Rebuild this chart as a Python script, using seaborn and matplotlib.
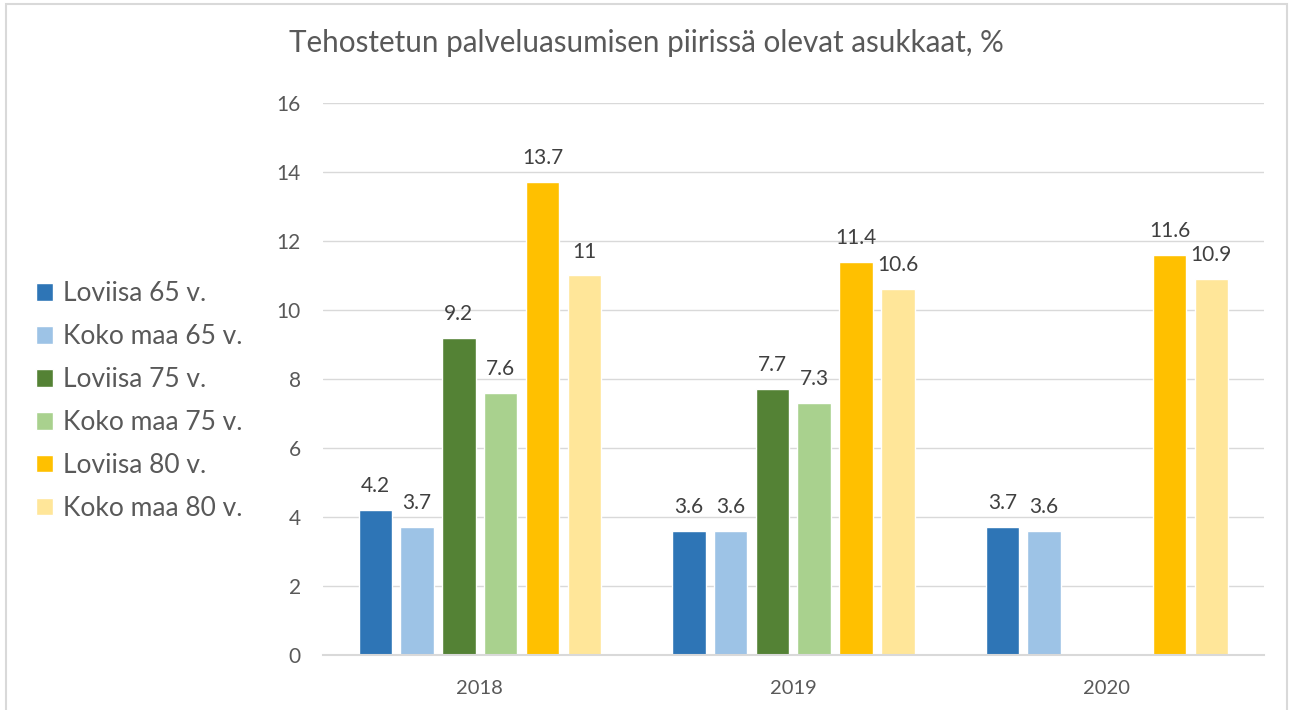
import numpy as np
import pandas as pd
import seaborn as sns
import matplotlib.pyplot as plt
from matplotlib.patches import Rectangle

years = ["2018", "2019", "2020"]
series = ["Loviisa 65 v.", "Koko maa 65 v.", "Loviisa 75 v.", "Koko maa 75 v.", "Loviisa 80 v.", "Koko maa 80 v."]
loviisa_65 = [4.2, 3.6, 3.7]
kokomaa_65 = [3.7, 3.6, 3.6]
loviisa_75 = [9.2, 7.7, np.nan]
kokomaa_75 = [7.6, 7.3, np.nan]
loviisa_80 = [13.7, 11.4, 11.6]
kokomaa_80 = [11.0, 10.6, 10.9]
colors = ["#2E75B6", "#9DC3E6", "#548235", "#A9D18E", "#FFC000", "#FFE699"]

values = [loviisa_65, kokomaa_65, loviisa_75, kokomaa_75, loviisa_80, kokomaa_80]
rows = []
for s, vals in zip(series, values):
    for y, v in zip(years, vals):
        rows.append({"Vuosi": y, "Sarja": s, "Arvo": v})
df = pd.DataFrame(rows)

sns.set_theme(style="white")
plt.rcParams["font.family"] = ["Lato", "DejaVu Sans"]
txt = "#595959"

fig = plt.figure(figsize=(12.92, 7.1), dpi=100)
ax = fig.add_axes([0.25, 0.0775, 0.728, 0.7775])

sns.barplot(data=df, x="Vuosi", y="Arvo", hue="Sarja", order=years, hue_order=series,
            palette=colors, width=0.8, gap=0.2, saturation=1, ax=ax, legend=True, errorbar=None)

for cont in ax.containers:
    labels = []
    for v in cont.datavalues:
        if np.isnan(v):
            labels.append("")
        else:
            labels.append(f"{v:g}")
    ax.bar_label(cont, labels=labels, padding=10, fontsize=15, color="#404040")

ax.set_ylim(0, 16)
ax.set_yticks(range(0, 17, 2))
ax.set_xlim(-0.5, 2.5)
ax.yaxis.grid(True, color="#D9D9D9", linewidth=1)
ax.set_axisbelow(True)
for sp in ["top", "right", "left"]:
    ax.spines[sp].set_visible(False)
ax.spines["bottom"].set_color("#D9D9D9")
ax.spines["bottom"].set_linewidth(1.5)
ax.tick_params(axis="y", length=0, pad=16, labelsize=15, labelcolor=txt)
ax.tick_params(axis="x", length=0, pad=18, labelsize=14.5, labelcolor=txt)
ax.set_xlabel("")
ax.set_ylabel("")

handles, labs = ax.get_legend_handles_labels()
ax.get_legend().remove()
fig.legend(handles, labs, loc="upper left", bbox_to_anchor=(0.028, 0.604), frameon=False,
           fontsize=19, labelcolor=txt, handlelength=0.65, handleheight=0.65,
           handletextpad=0.35, labelspacing=0.68, borderaxespad=0, borderpad=0)

fig.text(0.5, 0.94, "Tehostetun palveluasumisen piirissä olevat asukkaat, %",
         ha="center", va="center", fontsize=21.3, color=txt)

fig.patches.append(Rectangle((5.5 / 1292, -0.05), 1281 / 1292, 1.05 - 4 / 710,
                             transform=fig.transFigure, fill=False,
                             edgecolor="#D9D9D9", linewidth=1.5))

fig.savefig("out.png", dpi=100)
